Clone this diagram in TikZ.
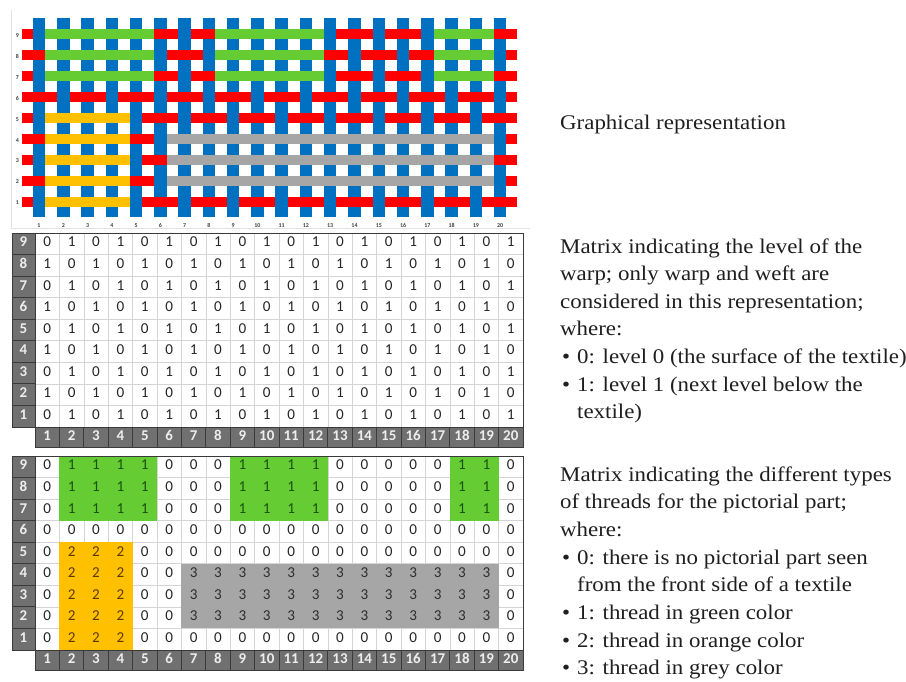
\documentclass[tikz,border=0pt]{standalone}
\usepackage{fontspec}
\setmainfont{Liberation Serif}[FakeStretch=1.1]
\newfontfamily\calib{Carlito}
\definecolor{wblue}{HTML}{0070C0}
\definecolor{wred}{HTML}{FF0000}
\definecolor{wgreen}{HTML}{66CC33}
\definecolor{worange}{HTML}{FFC000}
\definecolor{wgrey}{HTML}{A6A6A6}
\definecolor{hdr}{HTML}{707070}
\definecolor{hdrline}{HTML}{3A3A3A}
\definecolor{gridc}{HTML}{D4D4D4}
\definecolor{digc}{HTML}{262626}
\definecolor{dgreen}{HTML}{1A5010}
\definecolor{dorange}{HTML}{5E3A00}
\definecolor{dgrey}{HTML}{2E2E2E}
\definecolor{framec}{HTML}{E2E2E2}
\newcommand\wvbar[4]{%
  \pgfmathsetmacro\yy{201.7-(#1-1)*20.94}%
  \pgfmathsetmacro\xa{39+(#2-2)*24.27+6.25}%
  \pgfmathsetmacro\xb{39+(#3)*24.27-6.25}%
  \fill[#4] (\xa,\yy-5) rectangle (\xb,\yy+5);}
\newcommand\mregion[5]{%
  \pgfmathsetmacro\ya{456+(9-#1)*21.55}%
  \pgfmathsetmacro\yb{456+(10-#2)*21.55}%
  \pgfmathsetmacro\xa{35+(#3-1)*24.4}%
  \pgfmathsetmacro\xb{35+(#4)*24.4}%
  \fill[#5] (\xa,\ya) rectangle (\xb,\yb);}
\begin{document}
\begin{tikzpicture}[x=1bp,y=-1bp,
  dig/.style={font=\calib\fontsize{15.2}{16}\selectfont, inner sep=0pt, text=digc,
    text height=0.63em, text depth=0pt},
  hcell/.style={fill=hdr, draw=hdrline, line width=0.9bp, inner sep=0pt,
    font=\calib\bfseries\fontsize{15}{16}\selectfont, text=white!93!black,
    text height=0.63em, text depth=0pt},
  glbl/.style={font=\calib\bfseries\fontsize{6}{7}\selectfont, inner sep=0pt, text=black!75,
    text height=0.63em, text depth=0pt},
  txt/.style={font=\fontsize{20.9}{25}\selectfont, anchor=base west, inner sep=0pt, text=black!88},
  gridline/.style={draw=gridc, line width=0.6bp},
  border/.style={draw=hdrline, line width=0.9bp}]
\useasboundingbox (0,0) rectangle (906,682);
\fill[white] (0,0) rectangle (906,682);

% ---------------- graphical representation ----------------
\draw[framec, line width=0.8bp] (11.5,10) -- (11.5,228) -- (530,228);
\foreach \i in {1,...,9}{
  \pgfmathsetmacro\yy{201.7-(\i-1)*20.94}
  \fill[wred] (22,\yy-5) rectangle (517,\yy+5);
  \node[glbl] (gr\i) at (17.5,\yy) {\i};
}
\foreach \j in {1,...,20}{
  \pgfmathsetmacro\xx{39+(\j-1)*24.27}
  \fill[wblue] (\xx-6.25,18.3) rectangle (\xx+6.25,216.7);
  \node[glbl] (gc\j) at (\xx,224) {\j};
}
\foreach \i in {1,...,9}{\foreach \j in {1,...,20}{
  \ifodd\numexpr\i+\j\relax
    \pgfmathsetmacro\yy{201.7-(\i-1)*20.94}
    \pgfmathsetmacro\xx{39+(\j-1)*24.27}
    \fill[wred] (\xx-6.6,\yy-5) rectangle (\xx+6.6,\yy+5);
  \fi
}}
\foreach \i in {7,8,9}{\foreach \a/\b in {2/5,9/12,18/19}{\wvbar{\i}{\a}{\b}{wgreen}}}
\foreach \i in {1,...,5}{\wvbar{\i}{2}{4}{worange}}
\foreach \i in {2,3,4}{\wvbar{\i}{7}{19}{wgrey}}

% ---------------- matrix 1 ----------------
\foreach \c in {1,...,19}{\draw[gridline] (35+\c*24.4,233) -- (35+\c*24.4,426.95);}
\foreach \r in {1,...,8}{\draw[gridline] (35,233+\r*21.55) -- (523,233+\r*21.55);}
\draw[border] (35,233) rectangle (523,426.95);
\foreach \r in {1,...,9}{
  \pgfmathsetmacro\yc{233+(9-\r)*21.55+10.775}
  \node[hcell, minimum width=23bp, minimum height=21.55bp] (ar\r) at (23.5,\yc) {\r};
  \foreach \c in {1,...,20}{
    \pgfmathsetmacro\xc{35+(\c-1)*24.4+12.2}
    \pgfmathtruncatemacro\v{mod(\r+\c,2)}
    \node[dig] (a\r-\c) at (\xc,\yc) {\v};
  }
}
\foreach \c in {1,...,20}{
  \node[hcell, minimum width=24.4bp, minimum height=20bp] (ah\c) at (35+\c*24.4-12.2,436.95) {\c};
}

% ---------------- matrix 2 ----------------
\foreach \c in {1,...,19}{\draw[gridline] (35+\c*24.4,456) -- (35+\c*24.4,649.95);}
\foreach \r in {1,...,8}{\draw[gridline] (35,456+\r*21.55) -- (523,456+\r*21.55);}
\mregion{9}{7}{2}{5}{wgreen}
\mregion{9}{7}{9}{12}{wgreen}
\mregion{9}{7}{18}{19}{wgreen}
\mregion{5}{1}{2}{4}{worange}
\mregion{4}{2}{7}{19}{wgrey}
\draw[border] (35,456) rectangle (523,649.95);
\foreach \r in {1,...,9}{
  \pgfmathsetmacro\yc{456+(9-\r)*21.55+10.775}
  \node[hcell, minimum width=23bp, minimum height=21.55bp] (br\r) at (23.5,\yc) {\r};
  \foreach \c in {1,...,20}{
    \pgfmathsetmacro\xc{35+(\c-1)*24.4+12.2}
    \pgfmathtruncatemacro\v{(\r>=7)*((\c>=2)*(\c<=5)+(\c>=9)*(\c<=12)+(\c>=18)*(\c<=19))+2*(\r<=5)*(\c>=2)*(\c<=4)+3*(\r>=2)*(\r<=4)*(\c>=7)*(\c<=19)}
    \ifcase\v\def\vc{digc}\or\def\vc{dgreen}\or\def\vc{dorange}\or\def\vc{dgrey}\fi
    \node[dig, text=\vc] (b\r-\c) at (\xc,\yc) {\v};
  }
}
\foreach \c in {1,...,20}{
  \node[hcell, minimum width=24.4bp, minimum height=20bp] (bh\c) at (35+\c*24.4-12.2,659.95) {\c};
}

% ---------------- texts ----------------
\node[txt] (t1) at (560,130) {Graphical representation};

\node[txt] (t2) at (560,253) {Matrix indicating the level of the};
\node[txt] (t3) at (560,280.6) {warp; only warp and weft are};
\node[txt] (t4) at (560,308.2) {considered in this representation;};
\node[txt] (t5) at (560,335.8) {where:};
\node[txt] (b5) at (562,363.4) {\textbullet};
\node[txt] (t6) at (577,363.4) {0: level 0 (the surface of the textile)};
\node[txt] (b6) at (562,391) {\textbullet};
\node[txt] (t7) at (577,391) {1: level 1 (next level below the};
\node[txt] (t8) at (577,418.6) {textile)};

\node[txt] (t9) at (560,481) {Matrix indicating the different types};
\node[txt] (t10) at (560,508.7) {of threads for the pictorial part;};
\node[txt] (t11) at (560,536.4) {where:};
\node[txt] (b12) at (562,564.1) {\textbullet};
\node[txt] (t12) at (577,564.1) {0: there is no pictorial part seen};
\node[txt] (t13) at (577,591.8) {from the front side of a textile};
\node[txt] (b14) at (562,619.5) {\textbullet};
\node[txt] (t14) at (577,619.5) {1: thread in green color};
\node[txt] (b15) at (562,647.2) {\textbullet};
\node[txt] (t15) at (577,647.2) {2: thread in orange color};
\node[txt] (b16) at (562,674.9) {\textbullet};
\node[txt] (t16) at (577,674.9) {3: thread in grey color};
\end{tikzpicture}
\end{document}
